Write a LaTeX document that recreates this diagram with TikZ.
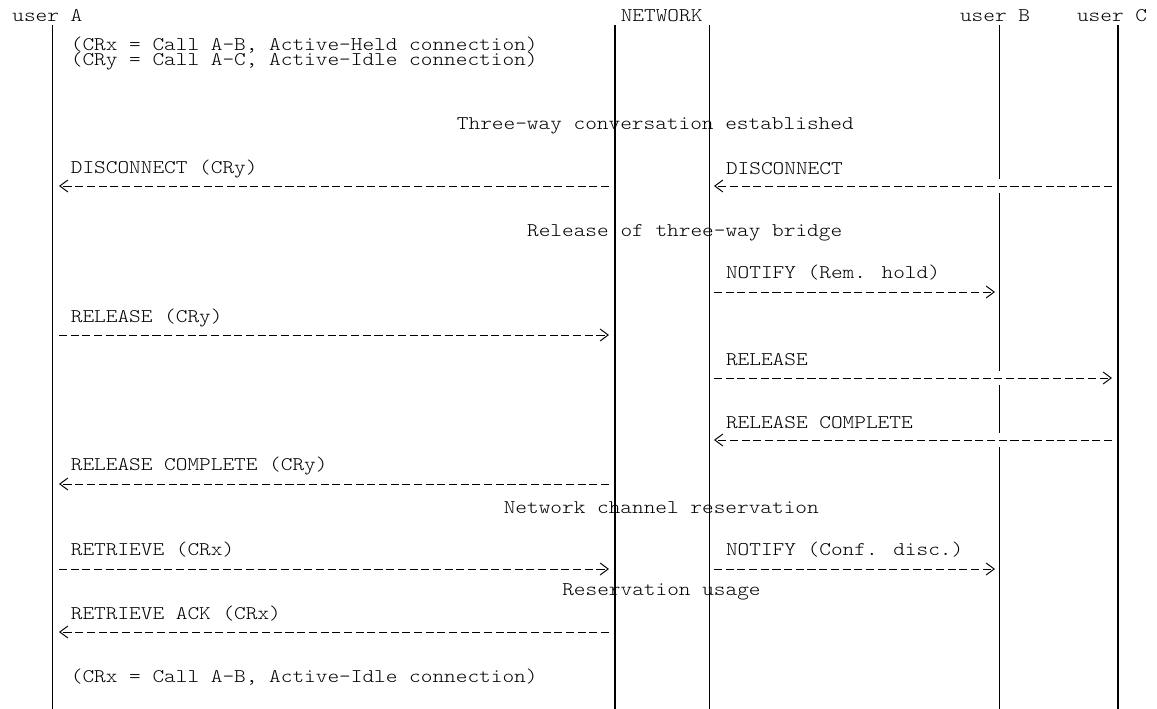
\documentclass[tikz,border=0pt]{standalone}
\usepackage{fontspec}
\usepackage{tikz}
\usetikzlibrary{arrows.meta}
\newfontfamily\seqfont[FakeStretch=1.15]{lmmonolt10-regular.otf}

\tikzset{%
  life/.style={line width=0.8pt},%
  msg/.style={line width=0.55pt, dash pattern=on 4.6pt off 2.05pt, -{Straight Barb[length=4.6pt,width=6.8pt,line width=0.55pt]}},%
  lbl/.style={font=\fontsize{11}{13}\selectfont\seqfont, anchor=west, inner sep=0pt}%
}

\begin{document}
\begin{tikzpicture}[x=0.02cm, y=-0.02cm]%
\useasboundingbox (0, 0) rectangle (1157, 709);%
\node[lbl] (uA) at (12, 16) {user A};%
\node[lbl] (net) at (620.4, 16) {NETWORK};%
\node[lbl] (uB) at (959.7, 16) {user B};%
\node[lbl] (uC) at (1076.7, 16) {user C};%
\coordinate (uAtop) at (52.5, 25);%
\coordinate (uAbot) at (52.5, 709);%
\coordinate (n1top) at (615, 25);%
\coordinate (n1bot) at (615, 709);%
\coordinate (n2top) at (709.5, 25);%
\coordinate (n2bot) at (709.5, 709);%
\coordinate (uCtop) at (1118, 25);%
\coordinate (uCbot) at (1118, 709);%
\draw[life] (uAtop) -- (uAbot);%
\draw[life] (n1top) -- (n1bot);%
\draw[life] (n2top) -- (n2bot);%
\draw[life] (uCtop) -- (uCbot);%
\coordinate (uB0) at (999.5, 25);%
\coordinate (uB1) at (999.5, 179);%
\coordinate (uB2) at (999.5, 193);%
\coordinate (uB3) at (999.5, 371);%
\coordinate (uB4) at (999.5, 385);%
\coordinate (uB5) at (999.5, 433);%
\coordinate (uB6) at (999.5, 447);%
\coordinate (uB7) at (999.5, 709);%
\draw[life] (uB0) -- (uB1);%
\draw[life] (uB2) -- (uB3);%
\draw[life] (uB4) -- (uB5);%
\draw[life] (uB6) -- (uB7);%
\node[lbl] (cr1) at (70.5, 45) {(CRx = Call A-B, Active-Held connection)};%
\node[lbl] (cr2) at (70.5, 61) {(CRy = Call A-C, Active-Idle connection)};%
\node[lbl] (st1) at (456.6, 126) {Three-way conversation established};%
\node[lbl] (l1) at (70.5, 169) {DISCONNECT (CRy)};%
\node[lbl] (r1) at (725.7, 169) {DISCONNECT};%
\coordinate (l1a) at (59, 186);%
\coordinate (l1n) at (609, 186);%
\coordinate (r1n) at (714, 186);%
\coordinate (r1c) at (1112, 186);%
\draw[msg] (l1n) -- (l1a);%
\draw[msg] (r1c) -- (r1n);%
\node[lbl] (st2) at (526.8, 233) {Release of three-way bridge};%
\node[lbl] (r2) at (725.7, 273) {NOTIFY (Rem. hold)};%
\coordinate (r2n) at (714, 292);%
\coordinate (r2b) at (995, 292);%
\draw[msg] (r2n) -- (r2b);%
\node[lbl] (l2) at (70.5, 318) {RELEASE (CRy)};%
\coordinate (l2a) at (59, 335);%
\coordinate (l2n) at (609, 335);%
\draw[msg] (l2a) -- (l2n);%
\node[lbl] (r3) at (725.7, 360) {RELEASE};%
\coordinate (r3n) at (714, 378);%
\coordinate (r3c) at (1112, 378);%
\draw[msg] (r3n) -- (r3c);%
\node[lbl] (r4) at (725.7, 423) {RELEASE COMPLETE};%
\coordinate (r4n) at (714, 440);%
\coordinate (r4c) at (1112, 440);%
\draw[msg] (r4c) -- (r4n);%
\node[lbl] (l3) at (70.5, 466) {RELEASE COMPLETE (CRy)};%
\coordinate (l3a) at (59, 484);%
\coordinate (l3n) at (609, 484);%
\draw[msg] (l3n) -- (l3a);%
\node[lbl] (st3) at (503.4, 508) {Network channel reservation};%
\node[lbl] (l4) at (70.5, 550) {RETRIEVE (CRx)};%
\node[lbl] (r5) at (725.7, 550) {NOTIFY (Conf. disc.)};%
\coordinate (l4a) at (59, 569);%
\coordinate (l4n) at (609, 569);%
\coordinate (r5n) at (714, 569);%
\coordinate (r5b) at (995, 569);%
\draw[msg] (l4a) -- (l4n);%
\draw[msg] (r5n) -- (r5b);%
\node[lbl] (st4) at (561.9, 592) {Reservation usage};%
\node[lbl] (l5) at (70.5, 614) {RETRIEVE ACK (CRx)};%
\coordinate (l5a) at (59, 632);%
\coordinate (l5n) at (609, 632);%
\draw[msg] (l5n) -- (l5a);%
\node[lbl] (cr3) at (70.5, 677) {(CRx = Call A-B, Active-Idle connection)};%
\end{tikzpicture}
\end{document}
